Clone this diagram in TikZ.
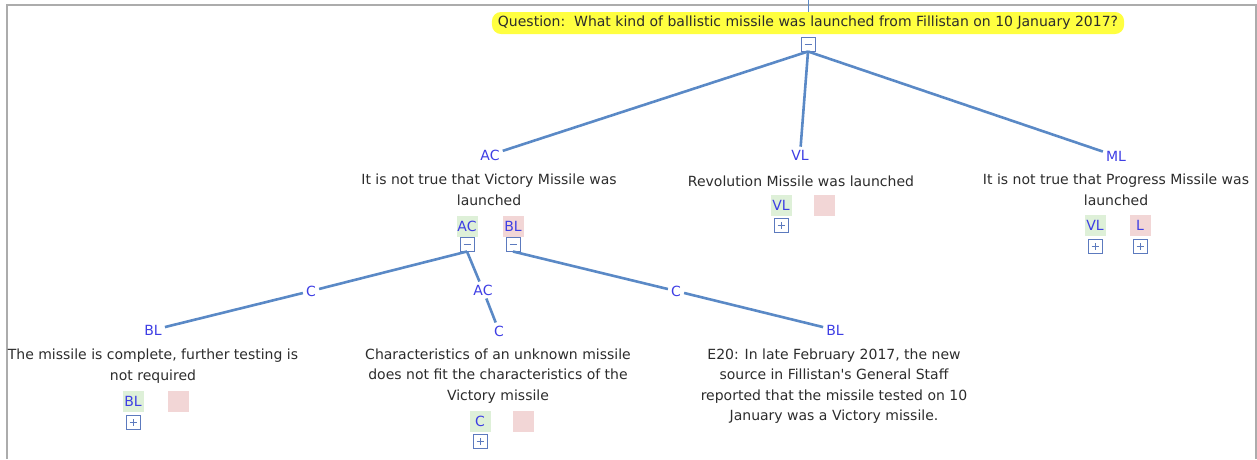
\documentclass[tikz,border=0pt]{standalone}
\usepackage{fontspec}
\setmainfont{DejaVu Sans}
\definecolor{edgeblue}{RGB}{90,137,198}
\definecolor{lblblue}{RGB}{62,62,228}
\definecolor{txtgray}{RGB}{44,44,44}
\definecolor{greenfill}{RGB}{222,240,216}
\definecolor{pinkfill}{RGB}{242,214,214}
\definecolor{qyellow}{RGB}{255,255,64}
\definecolor{framegray}{RGB}{172,172,172}
\definecolor{togblue}{RGB}{92,122,190}
\tikzset{
  txtfont/.style={font=\fontsize{14}{20.5}\selectfont},
  edge/.style={draw=edgeblue, line width=2.6pt},
  lbl/.style={txtfont, text=lblblue, inner sep=3pt},
  stmt/.style={txtfont, text=txtgray, align=center, inner sep=1pt},
  qbox/.style={txtfont, text=txtgray, fill=qyellow, rounded corners=9pt,
    inner xsep=6pt, minimum height=22pt},
  tagbox/.style={txtfont, text=lblblue, minimum width=21pt, minimum height=21pt, inner sep=0pt},
  gbox/.style={tagbox, fill=greenfill},
  pbox/.style={tagbox, fill=pinkfill},
  togbox/.style={draw=togblue, fill=white, line width=1pt, minimum size=14pt, inner sep=0pt},
  minusbox/.style={togbox, path picture={
    \draw[togblue, line width=1pt]
      ([xshift=-3.5pt]path picture bounding box.center) --
      ([xshift=3.5pt]path picture bounding box.center);}},
  plusbox/.style={togbox, path picture={
    \draw[togblue, line width=1pt]
      ([xshift=-3.5pt]path picture bounding box.center) --
      ([xshift=3.5pt]path picture bounding box.center)
      ([yshift=-3.5pt]path picture bounding box.center) --
      ([yshift=3.5pt]path picture bounding box.center);}},
}
\begin{document}
\begin{tikzpicture}[x=1pt, y=-1pt]
  \useasboundingbox (0,0) rectangle (1257,459);
  % window frame
  \draw[framegray, line width=2pt] (7,459) -- (7,5) -- (1256,5) -- (1256,459);

  % root question
  \node[qbox] (q) at (808,23)
    {Question:\ \ What kind of ballistic missile was launched from Fillistan on 10 January 2017?};
  \coordinate (top) at (808,0);
  \draw[edgeblue, line width=1pt] (top) -- (q.north);
  \node[minusbox] (qt) at (808,44) {};

  % first level
  \node[lbl] (ac) at (490,155) {AC};
  \node[stmt] (s-ac) at (489,190) {It is not true that Victory Missile was\\launched};
  \node[gbox] (g-ac) at (467,226) {AC};
  \node[pbox] (p-ac) at (513,226) {BL};
  \node[minusbox] (t-ac) at (467,244) {};
  \node[minusbox] (t-bl) at (513,244) {};

  \node[lbl] (vl) at (800,155) {VL};
  \node[stmt] (s-vl) at (801,181) {Revolution Missile was launched};
  \node[gbox] (g-vl) at (781,205) {VL};
  \node[pbox] (p-vl) at (824,205) {};
  \node[plusbox] (t-vl) at (781,225) {};

  \node[lbl] (ml) at (1116,156) {ML};
  \node[stmt] (s-ml) at (1116,190) {It is not true that Progress Missile was\\launched};
  \node[gbox] (g-ml) at (1095,225) {VL};
  \node[pbox] (p-ml) at (1140,225) {L};
  \node[plusbox] (t-ml1) at (1095,246) {};
  \node[plusbox] (t-ml2) at (1140,246) {};

  % second level
  \node[lbl] (c1) at (311,291) {C};
  \node[lbl] (bl1) at (153,330) {BL};
  \node[stmt] (s-bl1) at (153,366) {The missile is complete, further testing is\\not required};
  \node[gbox] (g-bl1) at (133,401) {BL};
  \node[pbox] (p-bl1) at (178,401) {};
  \node[plusbox] (t-bl1) at (133,422) {};

  \node[lbl] (ac2) at (483,290) {AC};
  \node[lbl] (c2) at (499,331) {C};
  \node[stmt] (s-c2) at (498,376) {Characteristics of an unknown missile\\does not fit the characteristics of the\\Victory missile};
  \node[gbox] (g-c2) at (480,421) {C};
  \node[pbox] (p-c2) at (523,421) {};
  \node[plusbox] (t-c2) at (480,441) {};

  \node[lbl] (c3) at (676,291) {C};
  \node[lbl] (bl3) at (835,330) {BL};
  \node[stmt] (s-bl3) at (834,386) {E20: In late February 2017, the new\\source in Fillistan\textquotesingle s General Staff\\reported that the missile tested on 10\\January was a Victory missile.};

  % connectors
  \draw[edge] (qt.south) -- (ac);
  \draw[edge] (qt.south) -- (vl);
  \draw[edge] (qt.south) -- (ml);
  \draw[edge] (t-ac.south) -- (c1) -- (bl1);
  \draw[edge] (t-ac.south) -- (ac2) -- (c2);
  \draw[edge] (t-bl.south) -- (c3) -- (bl3);
\end{tikzpicture}
\end{document}
